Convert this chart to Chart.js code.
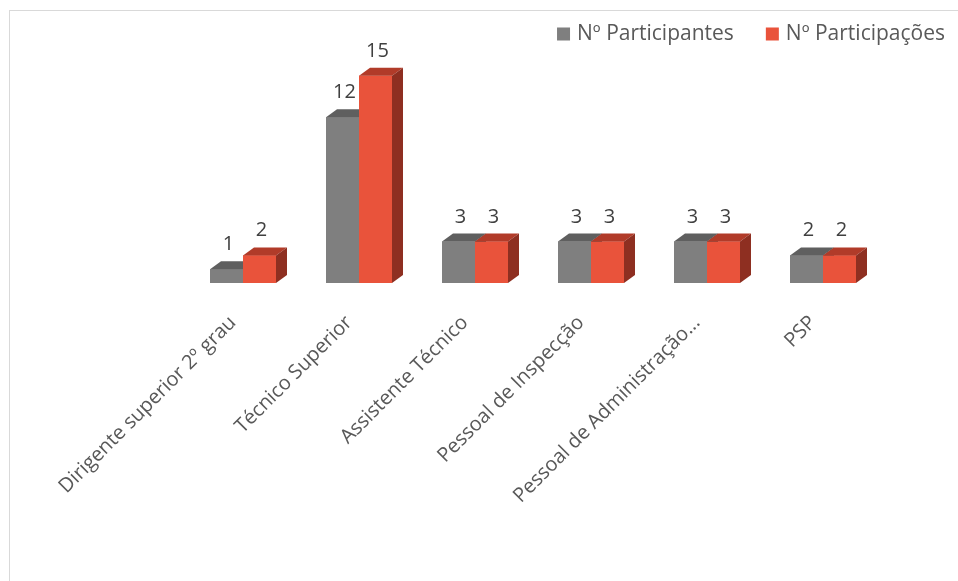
<!DOCTYPE html>
<html>
<head>
<meta charset="utf-8">
<script src="https://cdn.jsdelivr.net/npm/chart.js@4"></script>
<style>
  html, body { margin: 0; padding: 0; background: #ffffff; overflow: hidden; }
  #frame { position: absolute; left: 9px; top: 10px; width: 1200px; height: 1200px;
           border-left: 1px solid #d9d9d9; border-top: 1px solid #d9d9d9; }
  #wrap { position: absolute; left: 0; top: 0; width: 958px; height: 581px; }
</style>
</head>
<body>
<div id="frame"></div>
<div id="wrap"><canvas id="c" width="958" height="581"></canvas></div>
<script>
// Categories and series
const categories = [
  'Dirigente superior 2º grau',
  'Técnico Superior',
  'Assistente Técnico',
  'Pessoal de Inspecção',
  'Pessoal de Administração...',
  'PSP'
];
const seriesNames = ['Nº Participantes', 'Nº Participações'];
const participantes = [1, 12, 3, 3, 3, 2];
const participacoes = [2, 15, 3, 3, 3, 2];

const FONT = "'Open Sans', 'DejaVu Sans', sans-serif";
const DX = 11, DY = 8;  // depth offset of the box faces
const faces = [
  { front: '#7f7f7f', top: '#5f5f5f', side: '#4f4f4f' },
  { front: '#e9533b', top: '#b13b29', side: '#8e2f21' }
];

// Draws each bar as a box: front, top and right-hand side, category by category
const boxes = {
  id: 'boxes',
  afterDatasetsDraw(chart) {
    const ctx = chart.ctx;
    const metas = chart.data.datasets.map((d, i) => chart.getDatasetMeta(i));
    ctx.save();
    for (let j = 0; j < chart.data.labels.length; j++) {
      metas.forEach((meta, i) => {
        const el = meta.data[j];
        const { x, y, base, width } = el.getProps(['x', 'y', 'base', 'width'], true);
        const l = x - width / 2, r = x + width / 2;
        const c = faces[i];
        ctx.fillStyle = c.front;
        ctx.fillRect(l, y, width, base - y);
        ctx.fillStyle = c.top;
        ctx.beginPath();
        ctx.moveTo(l, y); ctx.lineTo(l + DX, y - DY); ctx.lineTo(r + DX, y - DY); ctx.lineTo(r, y);
        ctx.closePath(); ctx.fill();
        ctx.fillStyle = c.side;
        ctx.beginPath();
        ctx.moveTo(r, y); ctx.lineTo(r + DX, y - DY); ctx.lineTo(r + DX, base - DY); ctx.lineTo(r, base);
        ctx.closePath(); ctx.fill();
      });
    }
    ctx.restore();
  },
  afterDraw(chart) {
    const ctx = chart.ctx;
    ctx.save();
    // value labels above each box
    ctx.font = `20px ${FONT}`;
    ctx.fillStyle = '#404040';
    ctx.textAlign = 'center';
    ctx.textBaseline = 'alphabetic';
    chart.data.datasets.forEach((ds, i) => {
      chart.getDatasetMeta(i).data.forEach((el, j) => {
        const { x, y } = el.getProps(['x', 'y'], true);
        ctx.fillText(String(ds.data[j]), x + 2, y - 19);
      });
    });
    // legend, right-aligned in the top strip
    ctx.font = `21px ${FONT}`;
    ctx.textAlign = 'left';
    ctx.textBaseline = 'middle';
    const box = 13, gapText = 7, gapItem = 32, legendY = 34;
    let right = 945;
    for (let i = chart.data.datasets.length - 1; i >= 0; i--) {
      const ds = chart.data.datasets[i];
      const w = ctx.measureText(ds.label).width;
      const tx = right - w;
      const bx = tx - gapText - box;
      ctx.fillStyle = faces[i].front;
      ctx.fillRect(bx, legendY - box / 2, box, box);
      ctx.fillStyle = '#595959';
      ctx.fillText(ds.label, tx, legendY);
      right = bx - gapItem;
    }
    ctx.restore();
  }
};

new Chart(document.getElementById('c'), {
  type: 'bar',
  data: {
    labels: categories,
    datasets: [
      { label: seriesNames[0], data: participantes, backgroundColor: faces[0].front },
      { label: seriesNames[1], data: participacoes, backgroundColor: faces[1].front }
    ]
  },
  options: {
    responsive: false,
    animation: false,
    layout: { padding: { left: 185, right: 77, top: 62, bottom: 0 } },
    datasets: { bar: { barPercentage: 1, categoryPercentage: 66 / 116 } },
    plugins: { legend: { display: false }, tooltip: { enabled: false } },
    scales: {
      y: { display: false, min: 0, max: 16 },
      x: {
        grid: { display: false },
        border: { display: false },
        ticks: {
          autoSkip: false, minRotation: 45, maxRotation: 45,
          color: '#595959', padding: 20, labelOffset: -10,
          font: { family: FONT, size: 20 }
        },
        afterFit(scale) { scale.height = 581 - 283; }
      }
    }
  },
  plugins: [boxes]
});
</script>
</body>
</html>
